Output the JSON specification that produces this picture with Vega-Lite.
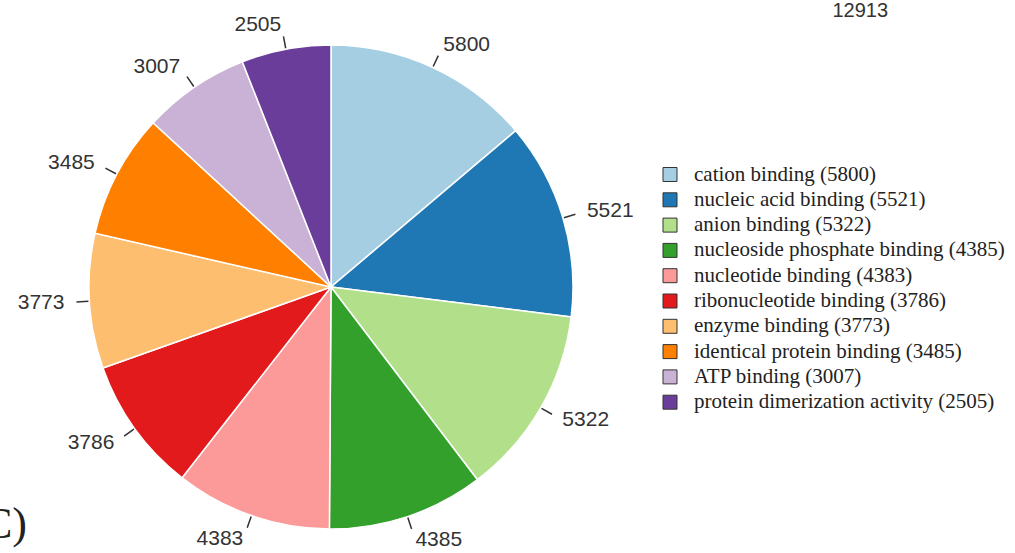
{
  "$schema": "https://vega.github.io/schema/vega-lite/v6.json",
  "width": 662,
  "height": 532,
  "autosize": {"type": "none"},
  "padding": {"left": 0, "top": 21, "right": 353, "bottom": 0},
  "background": "white",
  "title": {"text": "C)", "orient": "bottom", "anchor": "start", "frame": "group", "baseline": "alphabetic", "offset": 0, "dx": -17, "dy": -15, "font": "Liberation Serif", "fontSize": 44, "fontWeight": "normal", "color": "#222"},
  "data": {
    "values": [
      {"label": "cation binding (5800)", "value": 5800},
      {"label": "nucleic acid binding (5521)", "value": 5521},
      {"label": "anion binding (5322)", "value": 5322},
      {"label": "nucleoside phosphate binding (4385)", "value": 4385},
      {"label": "nucleotide binding (4383)", "value": 4383},
      {"label": "ribonucleotide binding (3786)", "value": 3786},
      {"label": "enzyme binding (3773)", "value": 3773},
      {"label": "identical protein binding (3485)", "value": 3485},
      {"label": "ATP binding (3007)", "value": 3007},
      {"label": "protein dimerization activity (2505)", "value": 2505}
    ]
  },
  "encoding": {
    "theta": {"field": "value", "type": "quantitative", "stack": true},
    "order": {"field": "value", "sort": "descending"}
  },
  "layer": [
    {
      "mark": {"type": "arc", "radius": 242, "stroke": "white", "strokeWidth": 1.5},
      "encoding": {
        "color": {
          "field": "label",
          "type": "nominal",
          "scale": {
            "domain": ["cation binding (5800)", "nucleic acid binding (5521)", "anion binding (5322)", "nucleoside phosphate binding (4385)", "nucleotide binding (4383)", "ribonucleotide binding (3786)", "enzyme binding (3773)", "identical protein binding (3485)", "ATP binding (3007)", "protein dimerization activity (2505)"],
            "range": ["#a6cee3", "#1f78b4", "#b2df8a", "#33a02c", "#fb9a99", "#e31a1c", "#fdbf6f", "#ff7f00", "#cab2d6", "#6a3d9a"]
          },
          "legend": {
            "title": "\u00a0\u00a0\u00a0\u00a0\u00a012913",
            "orient": "none",
            "legendX": 659.5,
            "legendY": -20,
            "padding": 0,
            "titleAnchor": "middle",
            "titleAlign": "left",
            "titlePadding": 143,
            "titleFont": "Liberation Sans",
            "titleFontSize": 20,
            "titleFontWeight": "normal",
            "titleColor": "#333",
            "labelFont": "Liberation Serif",
            "labelFontSize": 21,
            "labelColor": "#222",
            "labelLimit": 600,
            "labelOffset": 13.5,
            "symbolType": "square",
            "symbolSize": 196,
            "symbolStrokeColor": "#333",
            "symbolStrokeWidth": 1,
            "symbolOpacity": 1,
            "rowPadding": 3.3
          }
        }
      }
    },
    {
      "mark": {"type": "arc", "radius": 255, "radius2": 243, "padAngle": 3, "filled": false, "stroke": "#333", "strokeWidth": 1.5},
      "encoding": {"detail": {"field": "label", "type": "nominal"}}
    },
    {
      "mark": {"type": "text", "radius": 267, "font": "Liberation Sans", "fontSize": 21, "fill": "#333", "baseline": "middle", "align": {"expr": "scale('theta', (datum.value_start + datum.value_end) / 2) < PI ? 'left' : 'right'"}},
      "encoding": {
        "detail": {"field": "label", "type": "nominal"},
        "text": {"field": "value", "type": "quantitative", "format": "d"}
      }
    }
  ],
  "config": {"view": {"stroke": null}}
}
